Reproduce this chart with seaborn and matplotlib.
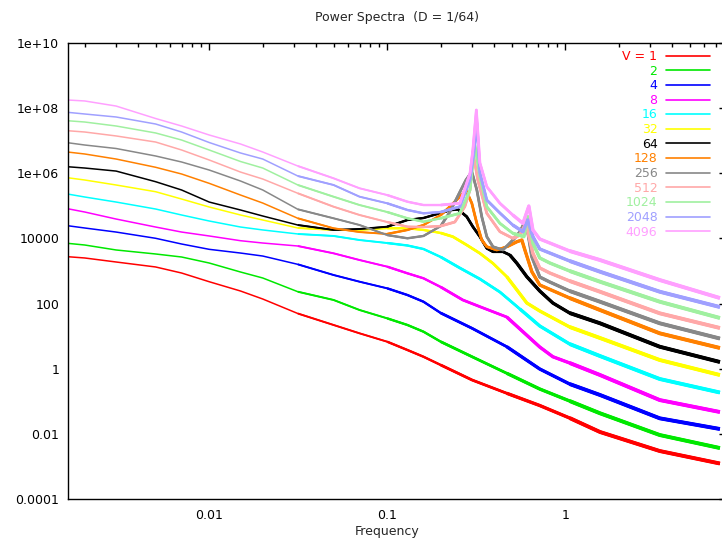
import matplotlib
matplotlib.use("Agg")
import matplotlib.pyplot as plt
from matplotlib.lines import Line2D
from matplotlib.ticker import FixedLocator, NullFormatter
import pandas as pd
import seaborn as sns

# Shared frequency samples for the smooth low- and high-frequency parts
freq_low = [0.0016, 0.002, 0.003, 0.005, 0.007, 0.01, 0.015, 0.02, 0.0315,
            0.05, 0.07, 0.1, 0.13, 0.16, 0.2]
freq_high = [0.72, 1.06, 1.57, 3.4, 7.4]

# V = 1
f_v1 = freq_low + [0.30, 0.47] + freq_high
p_v1 = [2750, 2510, 1890, 1330, 867, 469, 243, 138, 49.5, 22.0, 12.2, 6.75,
        3.75, 2.33, 1.30, 0.450, 0.176, 0.0741, 0.0306, 0.0114, 0.00297,
        0.00123]

# V = 2
f_v2 = freq_low + [0.30, 0.47] + freq_high
p_v2 = [7080, 6280, 4420, 3330, 2690, 1760, 931, 610, 231, 129, 63.4, 35.2,
        22.0, 13.7, 6.75, 2.33, 0.723, 0.238, 0.102, 0.0428, 0.0092, 0.00367]

# V = 4
f_v4 = freq_low + [0.30, 0.47] + freq_high
p_v4 = [24600, 20900, 15700, 10100, 6740, 4630, 3560, 2880, 1600, 753, 469,
        294, 183, 114, 51.3, 17.4, 4.73, 0.979, 0.339, 0.156, 0.0300, 0.0141]

# V = 8
f_v8 = freq_low + [0.266, 0.332, 0.47, 0.72, 0.853, 1.06, 1.57, 3.4, 7.4]
p_v8 = [81800, 64700, 39400, 22400, 15700, 11900, 8510, 7230, 5850, 3490,
        2170, 1360, 849, 597, 322, 129, 80.2, 38.6, 4.63, 2.33, 1.50, 0.641,
        0.109, 0.0469]

# V = 16
f_v16 = freq_low + [0.256, 0.332, 0.43, 0.557] + freq_high
p_v16 = [231000, 187000, 131000, 80000, 52400, 34300, 22400, 18200, 13700,
         11900, 8930, 7230, 6070, 4730, 2690, 1240, 568, 226, 68.1, 20.5,
         5.73, 2.45, 0.483, 0.186]

# V = 32
f_v32 = freq_low + [0.234, 0.280, 0.332, 0.393, 0.47, 0.536, 0.609] + freq_high
p_v32 = [731000, 622000, 437000, 272000, 162000, 92300, 52400, 36800, 20900,
         18200, 18200, 20500, 20500, 18200, 14700, 11300, 6280, 3490, 1720,
         668, 261, 104, 59.2, 19.1, 8.77, 1.85, 0.641]

# V = 64
f_v64 = freq_low + [0.225, 0.250, 0.280, 0.303, 0.332, 0.363, 0.393, 0.447,
                    0.489, 0.536, 0.609, 0.72, 0.853, 1.06, 1.57, 3.4, 7.4]
p_v64 = [1590000, 1450000, 1170000, 552000, 307000, 131000, 74600, 48800,
         25800, 18200, 19500, 22900, 36800, 42400, 60300, 74600, 78300, 46500,
         22900, 11300, 4980, 3910, 3910, 3100, 1720, 668, 243, 104, 51.3,
         24.8, 4.73, 1.61]

# V = 128
f_v128 = freq_low + [0.225, 0.256, 0.277, 0.299, 0.319, 0.340, 0.363, 0.413,
                     0.47, 0.536, 0.571, 0.594, 0.650] + freq_high
p_v128 = [4500000, 3910000, 2740000, 1530000, 951000, 492000, 215000, 122000,
          41500, 20500, 15700, 13700, 18200, 25800, 52400, 94200, 191000,
          307000, 120000, 29100, 8930, 5570, 4420, 5570, 7930, 8930, 4420,
          951, 372, 148, 63.4, 12.2, 4.33]

# V = 256
f_v256 = freq_low + [0.225, 0.256, 0.277, 0.299, 0.319, 0.340, 0.363, 0.393,
                     0.447, 0.508, 0.557, 0.602, 0.650, 0.72, 0.820, 1.06,
                     1.57, 3.4, 7.4]
p_v256 = [8690000, 7380000, 5770000, 3400000, 2220000, 1260000, 579000,
          307000, 78300, 41500, 25800, 12700, 10100, 11900, 24000, 64700,
          266000, 622000, 1120000, 307000, 46500, 11300, 5570, 4420, 8930,
          15700, 36800, 2750, 653, 459, 243, 114, 24.8, 8.45]

# V = 512
f_v512 = freq_low + [0.240, 0.273, 0.292, 0.303, 0.323, 0.363, 0.43, 0.508,
                     0.557, 0.602, 0.659, 0.72, 0.820, 1.06, 1.57, 3.4, 7.4]
p_v512 = [20300000, 18500000, 14000000, 9120000, 5190000, 2560000, 1090000,
          667000, 243000, 94200, 52400, 31900, 22900, 22400, 24000, 31900,
          94200, 307000, 4600000, 622000, 59000, 16100, 10100, 12700, 29100,
          3490, 1240, 867, 493, 231, 50.2, 17.8]

# V = 1024
f_v1024 = freq_low + [0.256, 0.292, 0.311, 0.332, 0.363, 0.43, 0.508, 0.586,
                      0.617, 0.659, 0.72, 0.820, 1.06, 1.57, 3.4, 7.4]
p_v1024 = [41100000, 37500000, 28300000, 17300000, 10500000, 5190000,
           2300000, 1450000, 437000, 191000, 106000, 64700, 41500, 32600,
           41500, 59000, 307000, 7380000, 785000, 94200, 29100, 14400, 11300,
           46500, 7080, 2510, 1760, 1000, 469, 114, 36.1]

# V = 2048
f_v2048 = freq_low + [0.256, 0.292, 0.307, 0.319, 0.332, 0.363, 0.43, 0.508,
                      0.579, 0.617, 0.659, 0.72, 0.820, 1.06, 1.57, 3.4, 7.4]
p_v2048 = [74500000, 66100000, 53500000, 32600000, 18500000, 8810000,
           4200000, 2740000, 824000, 437000, 191000, 120000, 74600, 59000,
           64700, 94200, 622000, 4200000, 35000000, 1020000, 151000, 60300,
           25800, 16100, 36800, 11300, 4730, 3560, 2030, 951, 231, 78.3]

# V = 4096
f_v4096 = freq_low + [0.256, 0.292, 0.303, 0.317, 0.332, 0.363, 0.43, 0.508,
                      0.579, 0.625, 0.659, 0.72, 0.820, 1.06, 1.57, 3.4, 7.4]
p_v4096 = [178000000, 166000000, 116000000, 48100000, 28300000, 15000000,
           7930000, 4500000, 1670000, 702000, 346000, 215000, 134000, 106000,
           106000, 120000, 998000, 5190000, 87700000, 2070000, 387000, 120000,
           52400, 29100, 98900, 18200, 9590, 7230, 4110, 2170, 528, 148]

labels = ["V = 1", "2", "4", "8", "16", "32", "64", "128", "256", "512",
          "1024", "2048", "4096"]
freqs = [f_v1, f_v2, f_v4, f_v8, f_v16, f_v32, f_v64, f_v128, f_v256,
         f_v512, f_v1024, f_v2048, f_v4096]
powers = [p_v1, p_v2, p_v4, p_v8, p_v16, p_v32, p_v64, p_v128, p_v256,
          p_v512, p_v1024, p_v2048, p_v4096]
colors = ["#ff0000", "#00e800", "#0000ff", "#ff00ff", "#00ffff", "#ffff00",
          "#000000", "#ff8000", "#888888", "#ffa8a8", "#a0f0a0", "#a0a0ff",
          "#ffa0ff"]

# Long-format table for seaborn
frames = []
for lab, f, p in zip(labels, freqs, powers):
    frames.append(pd.DataFrame({"Frequency": f, "Power": p, "V": lab}))
df = pd.concat(frames, ignore_index=True)

sns.set_style("white")
plt.rcParams["font.family"] = ["DejaVu Sans"]
plt.rcParams["font.size"] = 9

W, H = 722, 540
fig = plt.figure(figsize=(W / 100, H / 100), dpi=100)
ax = fig.add_axes([67.5 / W, 41 / H, 658.4 / W, 456 / H])

# The spectra get noisier toward high frequency, so each trace is drawn
# gradually heavier there.
weights = [(0.0, 1.1), (0.03, 1.4), (0.1, 1.7), (0.2, 2.0), (0.45, 2.4),
           (1.0, 2.8)]
for lab, c in zip(labels, colors):
    sub = df[df["V"] == lab]
    for fmin, lw in weights:
        part = sub[sub["Frequency"] >= fmin]
        sns.lineplot(data=part, x="Frequency", y="Power", color=c,
                     estimator=None, sort=False, linewidth=lw,
                     solid_capstyle="butt", legend=False, ax=ax)

ax.set_xscale("log")
ax.set_yscale("log")
ax.set_xlim(0.0016, 8)
ax.set_ylim(1e-4, 1e10)

xmaj = [0.01, 0.1, 1]
xmin = [m * 10.0 ** e for e in range(-3, 1) for m in range(2, 10)]
ymaj = [1e-4, 1e-2, 1, 1e2, 1e4, 1e6, 1e8, 1e10]
ymin = [1e-3, 1e-1, 1e1, 1e3, 1e5, 1e7, 1e9]
ax.xaxis.set_major_locator(FixedLocator(xmaj))
ax.xaxis.set_minor_locator(FixedLocator(xmin))
ax.xaxis.set_minor_formatter(NullFormatter())
ax.set_xticklabels(["0.01", "0.1", "1"])
ax.yaxis.set_major_locator(FixedLocator(ymaj))
ax.yaxis.set_minor_locator(FixedLocator(ymin))
ax.yaxis.set_minor_formatter(NullFormatter())
ax.set_yticklabels(["0.0001", "0.01", "1", "100", "10000", "1e+06",
                    "1e+08", "1e+10"])

ax.tick_params(which="both", direction="in", top=True, right=True,
               color="black", width=1.0, labelsize=9, labelcolor="black")
ax.tick_params(which="major", length=5)
ax.tick_params(which="minor", length=2.8)
ax.tick_params(axis="y", pad=6)
ax.tick_params(axis="x", pad=7)
for sp in ax.spines.values():
    sp.set_color("black")
    sp.set_linewidth(1.0)

ax.set_xlabel("")
ax.set_ylabel("")
fig.text(387.5 / W, 1 - 532 / H, "Frequency", ha="center", va="center",
         fontsize=9)
fig.text(397 / W, 1 - 18 / H, "Power Spectra  (D = 1/64)", ha="center",
         va="center", fontsize=9)

handles = [Line2D([], [], color=c, linewidth=1.2) for c in colors]
ax.legend(handles, labels, loc="upper right",
          bbox_to_anchor=(710 / W, 1 - 50 / H), bbox_transform=fig.transFigure,
          frameon=False, markerfirst=False, labelcolor="linecolor",
          handlelength=3.5, handletextpad=0.7, labelspacing=0.13,
          borderpad=0, borderaxespad=0, fontsize=9)

fig.savefig("out.png", dpi=100)
